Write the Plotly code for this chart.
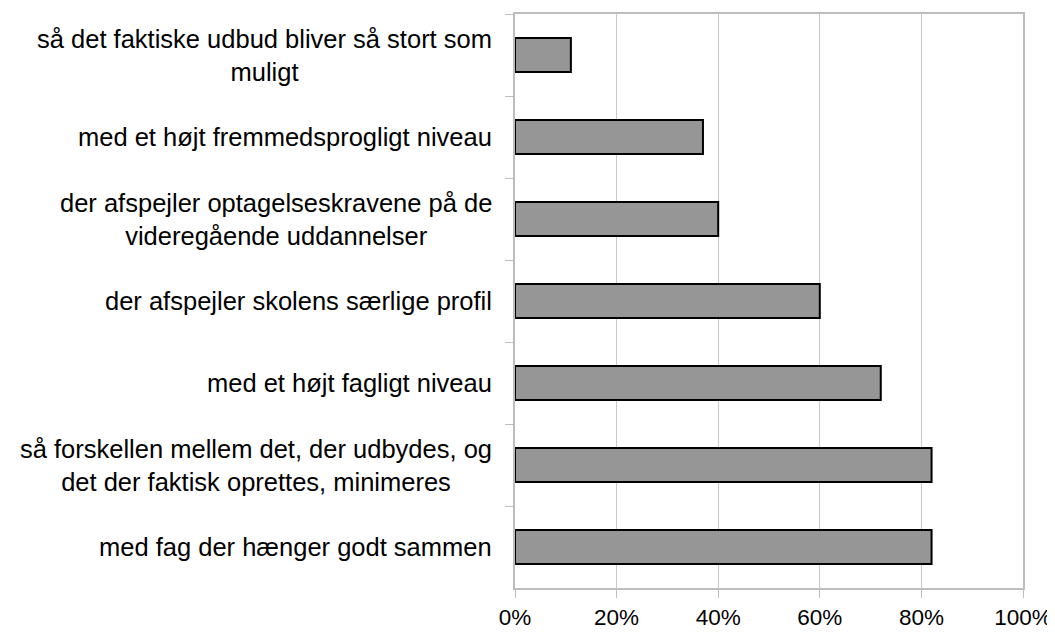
import plotly.graph_objects as go

# Categories (top to bottom) and shares
categories = [
    "så det faktiske udbud bliver så stort som<br>muligt",
    "med et højt fremmedsprogligt niveau",
    "der afspejler optagelseskravene på de<br>videregående uddannelser",
    "der afspejler skolens særlige profil",
    "med et højt fagligt niveau",
    "så forskellen mellem det, der udbydes, og<br>det der faktisk oprettes, minimeres",
    "med fag der hænger godt sammen",
]
values = [0.11, 0.37, 0.40, 0.60, 0.72, 0.82, 0.82]

x_ticks = [0, 0.2, 0.4, 0.6, 0.8, 1.0]

axis_grey = "#bdbdbd"
font_family = "Liberation Sans, Arial, sans-serif"

fig = go.Figure(
    go.Bar(
        x=values,
        y=categories,
        orientation="h",
        marker=dict(color="#969696", line=dict(color="#000000", width=2)),
    )
)

# Category labels as annotations so that wrapped lines are centred
for cat in categories:
    fig.add_annotation(
        xref="paper", yref="y",
        x=0, y=cat,
        xanchor="right", yanchor="middle",
        xshift=-21,
        text=cat,
        align="center",
        showarrow=False,
        font=dict(family=font_family, size=25.5, color="#000000"),
    )

# the page body adds an 8px offset, so margins are shifted to compensate
fig.update_layout(
    width=1047,
    height=625,
    margin=dict(l=507, r=32, t=6, b=45),
    paper_bgcolor="white",
    plot_bgcolor="white",
    bargap=0.585,
    showlegend=False,
    font=dict(family=font_family, color="#000000"),
)

fig.update_xaxes(
    range=[0, 1],
    tickvals=x_ticks,
    tickformat=".0%",
    showgrid=True,
    gridcolor="#c8c8c8",
    gridwidth=1,
    showline=True,
    linecolor=axis_grey,
    linewidth=2,
    mirror=True,
    ticks="outside",
    ticklen=8,
    tickcolor=axis_grey,
    tickwidth=1,
    tickfont=dict(size=22.5, family=font_family, color="#000000"),
    zeroline=False,
    automargin=False,
    fixedrange=True,
)

fig.update_yaxes(
    categoryorder="array",
    categoryarray=categories,
    autorange="reversed",
    showticklabels=False,
    ticks="outside",
    tickson="boundaries",
    ticklen=8,
    tickcolor=axis_grey,
    tickwidth=1,
    showline=True,
    linecolor=axis_grey,
    linewidth=2,
    mirror=True,
    showgrid=False,
    automargin=False,
    fixedrange=True,
)

fig.write_html("out.html")
